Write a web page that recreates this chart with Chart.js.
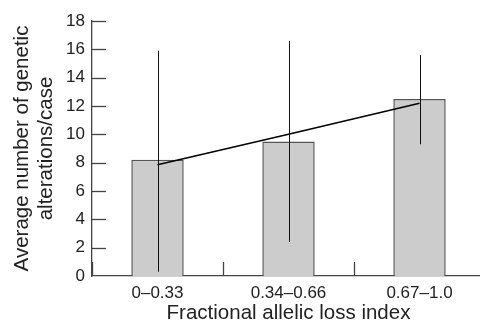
<!DOCTYPE html>
<html>
<head>
<meta charset="utf-8">
<script src="https://cdn.jsdelivr.net/npm/chart.js@4/dist/chart.umd.min.js"></script>
<style>
html,body{margin:0;padding:0;background:#fff;}
#wrap{width:480px;height:326px;position:relative;}
</style>
</head>
<body>
<div id="wrap"><canvas id="c"></canvas></div>
<script>
const categories = ['0\u20130.33', '0.34\u20130.66', '0.67\u20131.0'];
const meanValues = [8.2, 9.5, 12.5];
const errorHigh = [15.9, 16.6, 15.6];
const errorLow = [0.3, 2.4, 9.3];
const trendValues = [7.85, 10.0, 12.2];
const yMin = 0, yMax = 18, yStep = 2;
const xTitle = 'Fractional allelic loss index';
const yTitle = ['Average number of genetic', 'alterations/case'];

const FONT = "'Liberation Sans', Arial, sans-serif";

const decorPlugin = {
  id: 'decor',
  afterLayout(chart) {
    // let the category axis run past the right edge of the canvas, as in the reference
    const x = chart.scales.x;
    const extra = 5;
    x.right += extra;
    x.width += extra;
    chart.chartArea.right += extra;
    chart.chartArea.width += extra;
    x.configure();
  },
  afterDatasetsDraw(chart) {
    const ctx = chart.ctx;
    const x = chart.scales.x, y = chart.scales.y;
    ctx.save();
    ctx.strokeStyle = '#111';
    ctx.lineWidth = 1;
    for (let i = 0; i < categories.length; i++) {
      const px = Math.round(x.getPixelForValue(i)) + 0.5;
      ctx.beginPath();
      ctx.moveTo(px, y.getPixelForValue(errorLow[i]));
      ctx.lineTo(px, y.getPixelForValue(errorHigh[i]));
      ctx.stroke();
    }
    ctx.restore();
  },
  afterDraw(chart) {
    const ctx = chart.ctx;
    const x = chart.scales.x, y = chart.scales.y;
    const axisX = chart.chartArea.left;
    const axisY = y.getPixelForValue(0);
    ctx.save();
    ctx.strokeStyle = '#444';
    ctx.lineWidth = 1.3;
    for (let v = yMin + yStep; v <= yMax; v += yStep) {
      const py = Math.round(y.getPixelForValue(v)) + 0.5;
      ctx.beginPath();
      ctx.moveTo(axisX, py);
      ctx.lineTo(axisX + 14, py);
      ctx.stroke();
    }
    for (let i = 0; i <= categories.length; i++) {
      const px = Math.round(x.getPixelForValue(i - 0.5)) + 0.5;
      ctx.beginPath();
      ctx.moveTo(px, axisY);
      ctx.lineTo(px, axisY - 14);
      ctx.stroke();
    }
    ctx.restore();
  }
};

new Chart(document.getElementById('c'), {
  data: {
    labels: categories,
    datasets: [
      {
        type: 'line',
        data: trendValues,
        borderColor: '#000',
        borderWidth: 1.6,
        pointRadius: 0,
        fill: false,
        tension: 0,
        order: 0
      },
      {
        type: 'bar',
        data: meanValues,
        backgroundColor: '#cccccc',
        borderColor: '#555',
        borderWidth: 1.5,
        categoryPercentage: 1,
        barPercentage: 0.4,
        order: 1
      }
    ]
  },
  options: {
    responsive: true,
    maintainAspectRatio: false,
    animation: false,
    events: [],
    layout: { padding: { left: 0, right: 0, top: 21, bottom: 0 } },
    plugins: { legend: { display: false }, tooltip: { enabled: false } },
    scales: {
      x: {
        type: 'category',
        offset: true,
        grid: { display: false, drawTicks: false },
        border: { display: true, color: '#444', width: 1.3 },
        ticks: { color: '#222', font: { family: FONT, size: 17 }, padding: 7, maxRotation: 0 },
        title: { display: true, text: xTitle, color: '#222', font: { family: FONT, size: 20.5, lineHeight: 1.2 }, padding: { top: 0, bottom: 0 } },
        afterFit(s) { s.height = 50; }
      },
      y: {
        min: yMin, max: yMax,
        grid: { display: false, drawTicks: false },
        border: { display: true, color: '#444', width: 1.3 },
        ticks: { stepSize: yStep, color: '#222', font: { family: FONT, size: 17 }, padding: 7 },
        title: { display: true, text: yTitle, color: '#222', font: { family: FONT, size: 20.5, lineHeight: 1.15 }, padding: { top: 11, bottom: 0 } },
        afterFit(s) { s.width = 92; }
      }
    }
  },
  plugins: [decorPlugin]
});
</script>
</body>
</html>
